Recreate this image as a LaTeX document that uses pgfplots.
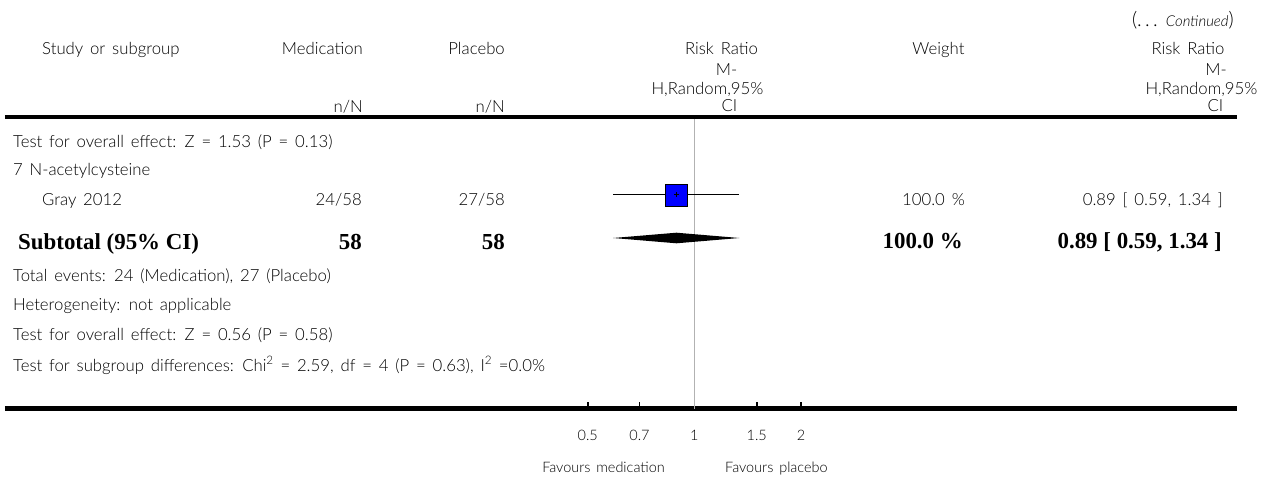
\documentclass[border=0pt]{standalone}
\usepackage{pgfplots}
\pgfplotsset{compat=1.18}
\usepackage{fontspec}
\IfFontExistsTF{Lato Light}{\setmainfont{Lato Light}[WordSpace=1.5]}{\setmainfont{Lato}[WordSpace=1.5]}
\IfFontExistsTF{Lato Light Italic}{\newfontfamily\itf{Lato Light Italic}}{\newcommand\itf{\itshape}}
\newfontfamily\bsf{Liberation Serif}
\newcommand\rf{\fontsize{16.8}{19}\selectfont}
\newcommand\tf{\fontsize{14.5}{17}\selectfont}
\newcommand\bb{\bsf\bfseries\fontsize{23}{26}\selectfont}
\begin{document}
\begin{tikzpicture}
\begin{axis}[name=A, at={(0,0)}, anchor=center, width=1263bp, height=477bp, scale only axis,
  xmin=0, xmax=1263, ymin=0, ymax=477, y dir=reverse, hide axis, clip=false]
\path (rel axis cs:0,0) rectangle (rel axis cs:1,1);
\draw[line width=4.3bp] (axis cs:5,117.3) -- (axis cs:1237,117.3);
% header
\node[anchor=base east, inner sep=0] at (axis cs:1234,26) {\fontsize{20}{22}\selectfont(.\,.\,.\ {\itf\fontsize{15}{17}\selectfont Continued})};
\node[anchor=base west, inner sep=0, font=\rf] at (axis cs:42,54) {Study or subgroup};
\node[anchor=base east, inner sep=0, font=\rf] at (axis cs:363,54) {Medication};
\node[anchor=base east, inner sep=0, font=\rf] at (axis cs:505,54) {Placebo};
\node[anchor=base, inner sep=0, font=\rf] at (axis cs:721.5,54) {Risk Ratio};
\node[anchor=base, inner sep=0, font=\rf] at (axis cs:726.5,75) {M-};
\node[anchor=base, inner sep=0, font=\rf] at (axis cs:707.5,94) {H,Random,95\%};
\node[anchor=base, inner sep=0, font=\rf] at (axis cs:729.5,111.7) {CI};
\node[anchor=base, inner sep=0, font=\rf] at (axis cs:938.5,54) {Weight};
\node[anchor=base, inner sep=0, font=\rf] at (axis cs:1188,54) {Risk Ratio};
\node[anchor=base, inner sep=0, font=\rf] at (axis cs:1216,75) {M-};
\node[anchor=base, inner sep=0, font=\rf] at (axis cs:1201.5,94) {H,Random,95\%};
\node[anchor=base, inner sep=0, font=\rf] at (axis cs:1215.5,111.7) {CI};
\node[anchor=base east, inner sep=0, font=\rf] at (axis cs:363,112.5) {n/N};
\node[anchor=base east, inner sep=0, font=\rf] at (axis cs:505,112.5) {n/N};
% rows
\node[anchor=base west, inner sep=0, font=\rf] at (axis cs:13,147) {Test for overall effect: Z = 1.53 (P = 0.13)};
\node[anchor=base west, inner sep=0, font=\rf] at (axis cs:13,175.5) {7 N-acetylcysteine};
\node[anchor=base west, inner sep=0, font=\rf] at (axis cs:42,205.5) {Gray 2012};
\node[anchor=base east, inner sep=0, font=\rf] at (axis cs:362,205.5) {24/58};
\node[anchor=base east, inner sep=0, font=\rf] at (axis cs:505,205.5) {27/58};
\node[anchor=base east, inner sep=0, font=\rf] at (axis cs:965,205) {100.0 \%};
\node[anchor=base east, inner sep=0, font=\rf] at (axis cs:1223,205) {0.89 [ 0.59, 1.34 ]};
\node[anchor=base west, inner sep=0, font=\bb] at (axis cs:18,249) {Subtotal (95\% CI)};
\node[anchor=base east, inner sep=0, font=\bb] at (axis cs:362,249) {58};
\node[anchor=base east, inner sep=0, font=\bb] at (axis cs:505,249) {58};
\node[anchor=base east, inner sep=0, font=\bb] at (axis cs:963,248.5) {100.0 \%};
\node[anchor=base east, inner sep=0, font=\bb] at (axis cs:1222,248.5) {0.89 [ 0.59, 1.34 ]};
\node[anchor=base west, inner sep=0, font=\rf] at (axis cs:13,281) {Total events: 24 (Medication), 27 (Placebo)};
\node[anchor=base west, inner sep=0, font=\rf] at (axis cs:13,310) {Heterogeneity: not applicable};
\node[anchor=base west, inner sep=0, font=\rf] at (axis cs:13,340) {Test for overall effect: Z = 0.56 (P = 0.58)};
\node[anchor=base west, inner sep=0, font=\rf] at (axis cs:13,371) {Test for subgroup differences: Chi\textsuperscript{2} = 2.59, df = 4 (P = 0.63), I\textsuperscript{2} =0.0\%};
\node[anchor=base east, inner sep=0, font=\tf] at (axis cs:665,472) {Favours medication};
\node[anchor=base west, inner sep=0, font=\tf] at (axis cs:725,472) {Favours placebo};
\end{axis}
\begin{axis}[at={(-10.5bp,34.25bp)}, anchor=center, width=1232bp, height=408.5bp, scale only axis,
  xmode=log, xmin=0.01133, xmax=34.0, ymin=0, ymax=408.5,
  axis x line=bottom, axis y line=none, axis line style={-, line width=4.3bp},
  xtick={0.5,0.7,1,1.5,2}, xticklabels={0.5,0.7,1,1.5,2}, xminorticks=false,
  tick align=inside, major tick length=6.5bp, xtick style={line width=1.6bp, black},
  xticklabel style={font=\tf, anchor=base, yshift=-31.5bp},
  /pgf/number format/assume math mode=true, clip=false]
\addplot[gray!60, line width=1.5bp] coordinates {(1,0) (1,289.5)};
\addplot[black, line width=1.1bp] coordinates {(0.59,214.2) (1.34,214.2)};
\addplot[only marks, mark=square*, mark size=11bp, mark options={fill=blue, draw=none}] coordinates {(0.89,213.5)};
\addplot[only marks, mark=+, mark size=2.5bp, mark options={black, line width=0.5bp}] coordinates {(0.89,214.2)};
\addplot[fill=black, draw=none] coordinates {(0.59,170.5) (0.89,175.8) (1.34,170.5) (0.89,165.2)} -- cycle;
\end{axis}
\end{tikzpicture}
\end{document}
